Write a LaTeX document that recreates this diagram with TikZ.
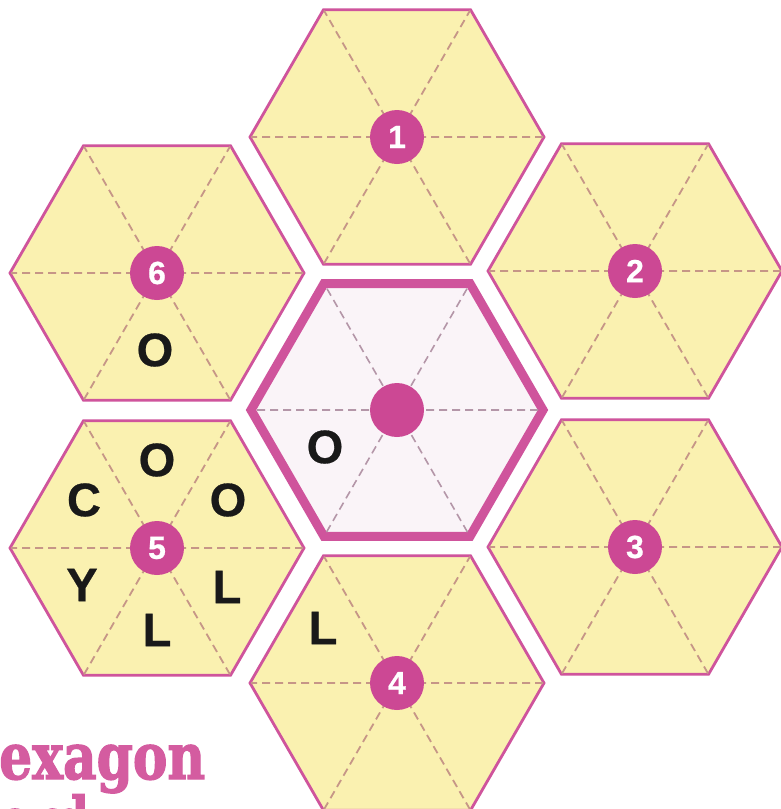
\documentclass[tikz,border=0pt]{standalone}
\usepackage{fontspec}
\usepackage{graphicx}
\setmainfont[BoldFeatures={FakeBold=0.6}]{Liberation Sans}
\newfontfamily\titlefont[BoldFeatures={FakeBold=2.2}]{DejaVu Serif}
\definecolor{hexyellow}{RGB}{250,241,176}
\definecolor{hexmag}{RGB}{207,84,156}
\definecolor{dotmag}{RGB}{204,72,148}
\definecolor{dashcol}{RGB}{198,150,135}
\definecolor{centerfill}{RGB}{250,244,248}
\definecolor{centerdash}{RGB}{180,150,168}
\definecolor{titlecol}{RGB}{212,92,160}
\tikzset{
 hexcell/.style={draw=hexmag,line width=2.8pt,fill=hexyellow,line join=miter},
 centercell/.style={draw=hexmag,line width=9pt,fill=centerfill,line join=miter},
 hexdash/.style={draw=dashcol,line width=1.8pt,dash pattern=on 8pt off 5pt},
 centerdashline/.style={draw=centerdash,line width=1.6pt,dash pattern=on 8pt off 5pt},
 numdot/.style={circle,fill=dotmag,minimum size=54pt,inner sep=0pt,text=white,font=\bfseries\fontsize{32}{32}\selectfont},
 letter/.style={font=\bfseries\fontsize{47}{47}\selectfont,text=black!90,inner sep=0pt},
 titletext/.style={anchor=base west,inner sep=0pt,text=titlecol,font=\titlefont\bfseries\fontsize{64}{64}\selectfont},
}
\begin{document}
\begin{tikzpicture}[x=1pt,y=-1pt]
\useasboundingbox (0,0) rectangle (780,809);
\fill[white] (0,0) rectangle (780,809);
\coordinate (c0) at (397,410);
\coordinate (c1) at (397,137);
\coordinate (c2) at (635,271);
\coordinate (c3) at (635,547);
\coordinate (c4) at (397,683);
\coordinate (c5) at (157,548);
\coordinate (c6) at (157,273);
% outer ring of hexagons
\foreach \c/\n in {c1/1,c2/2,c3/3,c4/4,c5/5,c6/6}{
  \draw[hexcell,shift={(\c)}] (0:147) -- (60:147) -- (120:147) -- (180:147) -- (240:147) -- (300:147) -- cycle;
  \draw[hexdash,shift={(\c)}] (0:146) -- (180:146) (60:146) -- (240:146) (120:146) -- (300:146);
  \node[numdot] (n\n) at (\c) {\n};
}
% central hexagon
\draw[centercell,shift={(c0)}] (0:146) -- (60:146) -- (120:146) -- (180:146) -- (240:146) -- (300:146) -- cycle;
\draw[centerdashline,shift={(c0)}] (0:141) -- (180:141) (60:141) -- (240:141) (120:141) -- (300:141);
\node[numdot] (n0) at (c0) {};
% letters
\node[letter] (l5a) at (157,460) {O};
\node[letter] (l5b) at (84,500) {C};
\node[letter] (l5c) at (228,500) {O};
\node[letter] (l5d) at (82,585) {Y};
\node[letter] (l5e) at (227,587) {L};
\node[letter] (l5f) at (157,630) {L};
\node[letter] (l6a) at (155,350) {O};
\node[letter] (l0a) at (325,447) {O};
\node[letter] (l4a) at (323,628) {L};
% title
\node[titletext] (title1) at (-1,779) {\resizebox{206pt}{\height}{exagon}};
\node[titletext] (title2) at (-1,843) {\scalebox{0.74}[1]{ord}};
\end{tikzpicture}
\end{document}
